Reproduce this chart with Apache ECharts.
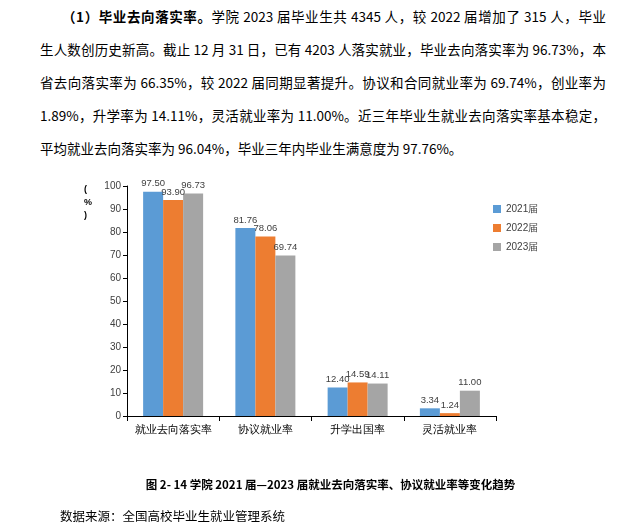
<!DOCTYPE html>
<html><head><meta charset="utf-8">
<script src="https://cdn.jsdelivr.net/npm/echarts@6/dist/echarts.min.js"></script>
<style>
body{margin:0;width:637px;height:527px;position:relative;background:#fff;font-family:"Noto Sans CJK SC",sans-serif;color:#000;overflow:hidden}
#p{position:absolute;left:40px;top:0px;width:566px;font-size:13.5px;line-height:33px}
#p div{text-align:justify;text-align-last:justify;white-space:nowrap}
#p div.last{text-align-last:left}
#c{position:absolute;left:0;top:0;width:637px;height:527px}
#cap{position:absolute;left:0;width:637px;top:476px;text-align:center;font-size:11.5px;font-weight:bold;padding-left:24px;box-sizing:border-box}
#src{position:absolute;left:60px;top:506px;font-size:12.5px}
</style></head><body>
<div id="p">
<div style="padding-left:22px"><b>（1）毕业去向落实率。</b>学院 2023 届毕业生共 4345 人，较 2022 届增加了 315 人，毕业</div>
<div>生人数创历史新高。截止 12 月 31 日，已有 4203 人落实就业，毕业去向落实率为 96.73%，本</div>
<div>省去向落实率为 66.35%，较 2022 届同期显著提升。协议和合同就业率为 69.74%，创业率为</div>
<div>1.89%，升学率为 14.11%，灵活就业率为 11.00%。近三年毕业生就业去向落实率基本稳定，</div>
<div class="last">平均就业去向落实率为 96.04%，毕业三年内毕业生满意度为 97.76%。</div>
</div>
<div id="c"></div>
<div id="cap">图 2- 14 学院 2021 届—2023 届就业去向落实率、协议就业率等变化趋势</div>
<div id="src">数据来源：全国高校毕业生就业管理系统</div>
<script>
const categories=['就业去向落实率','协议就业率','升学出国率','灵活就业率'];
const seriesNames=['2021届','2022届','2023届'];
const v2021=[97.50,81.76,12.40,3.34];
const v2022=[93.90,78.06,14.59,1.24];
const v2023=[96.73,69.74,14.11,11.00];
const colors=['#5b9bd5','#ed7d31','#a5a5a5'];
const ch=echarts.init(document.getElementById('c'));
const mk=(n,d,i)=>({name:n,type:'bar',data:d,barWidth:20,barGap:'0%',itemStyle:{color:colors[i]},
 label:{show:true,position:'top',formatter:p=>p.value.toFixed(2),fontSize:9.5,color:'#404040',distance:3}});
ch.setOption({
 animation:false,
 grid:{left:127,right:141,top:186,bottom:111},
 legend:{orient:'vertical',left:488,top:199,itemWidth:8,itemHeight:8,itemGap:9,icon:'rect',textStyle:{fontSize:10,color:'#404040'}},
 xAxis:{type:'category',data:categories,axisLine:{lineStyle:{color:'#000'}},axisTick:{show:true,length:5,lineStyle:{color:'#000'}},axisLabel:{interval:0,fontSize:10.5,color:'#000',margin:9}},
 yAxis:{type:'value',min:0,max:100,interval:10,splitLine:{show:false},axisLine:{show:true,lineStyle:{color:'#000'}},axisTick:{show:true,length:4,lineStyle:{color:'#000'}},axisLabel:{fontSize:10,color:'#404040',margin:6}},
 graphic:[{type:'text',left:84,top:183,style:{text:'(\n%\n)',fontSize:9,fontWeight:'bold',lineHeight:13,fill:'#000'}}],
 series:[mk(seriesNames[0],v2021,0),mk(seriesNames[1],v2022,1),mk(seriesNames[2],v2023,2)]
});
</script></body></html>
